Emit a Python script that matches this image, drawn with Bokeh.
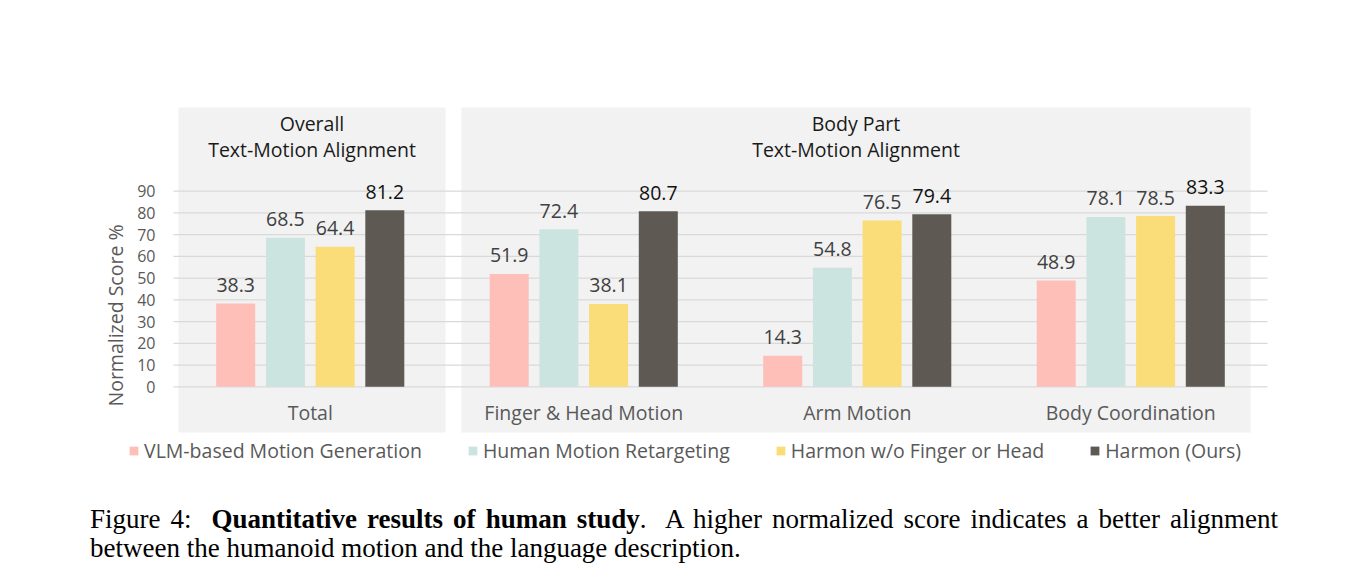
import numpy as np
from bokeh.plotting import figure
from bokeh.models import (ColumnDataSource, Range1d, FixedTicker, Legend, LegendItem, Div)
from bokeh.layouts import column
from bokeh.core.properties import value
from bokeh.embed import file_html
from bokeh.resources import INLINE

# ---------------- data ----------------
CATEGORIES = ["Total", "Finger & Head Motion", "Arm Motion", "Body Coordination"]
SERIES = ["VLM-based Motion Generation", "Human Motion Retargeting",
          "Harmon w/o Finger or Head", "Harmon (Ours)"]
VLM_GEN = [38.3, 51.9, 14.3, 48.9]
RETARGET = [68.5, 72.4, 54.8, 78.1]
NO_FINGER_HEAD = [64.4, 38.1, 76.5, 78.5]
HARMON = [81.2, 80.7, 79.4, 83.3]
Y_TICKS = [0, 10, 20, 30, 40, 50, 60, 70, 80, 90]
PANEL_TITLES = [["Overall", "Text-Motion Alignment"],
                ["Body Part", "Text-Motion Alignment"]]
Y_LABEL = "Normalized Score %"
CAPTION_LEAD = "Figure 4:"
CAPTION_BOLD = "Quantitative results of human study"
CAPTION_LINE1 = "A higher normalized score indicates a better alignment"
CAPTION_LINE2 = "between the humanoid motion and the language description."

# ---------------- style / layout ----------------
COLORS = ["#FFBFB9", "#CCE4E0", "#FADD78", "#5E5A53"]
VALUE_COLORS = ["#404040", "#404040", "#404040", "#111111"]
FONT = "Open Sans"
W = 1368
FIG_H = 499
FRAME_L, FRAME_R = 95, 1268          # canvas frame (px)
FRAME_T, FRAME_B = 100, 475
PLOT_L, PLOT_R = 173, 1267           # plotting area spanned by categories / grid
CAT_PX = (PLOT_R - PLOT_L) / len(CATEGORIES)
Y0_PX = 386.3
PPU = (386.3 - 190.6) / 90.0
BAR_STEP_PX = 49.7
BAR_W_PX = 39.0
TXT_SHIFT = 8                        # alphabetic-baseline correction


def x_of_px(px):
    return (px - PLOT_L) / CAT_PX


def y_of_px(py):
    return (Y0_PX - py) / PPU


p = figure(width=W, height=FIG_H, output_backend="svg", toolbar_location=None,
           x_range=Range1d(x_of_px(FRAME_L), x_of_px(FRAME_R)),
           y_range=Range1d(y_of_px(FRAME_B), y_of_px(FRAME_T)),
           x_axis_location=None, title=None,
           min_border_left=FRAME_L, min_border_right=W - FRAME_R,
           min_border_top=FRAME_T, min_border_bottom=FIG_H - FRAME_B)
p.outline_line_color = None
p.background_fill_color = "white"
p.border_fill_color = "white"
p.xgrid.visible = False
p.ygrid.visible = False

# background panels
p.quad(left=[x_of_px(178), x_of_px(461)], right=[x_of_px(445), x_of_px(1250)],
       bottom=y_of_px(432), top=y_of_px(107),
       fill_color="#F2F2F2", line_color=None, level="image")

# horizontal grid lines at the y ticks, spanning the category area
p.segment(x0=[x_of_px(PLOT_L)] * len(Y_TICKS), x1=[x_of_px(PLOT_R)] * len(Y_TICKS),
          y0=Y_TICKS, y1=Y_TICKS, line_color="#D9D9D9", line_width=1.3,
          level="underlay")

# y axis (drawn at the left edge of the category area)
ticker = FixedTicker(ticks=Y_TICKS)
p.yaxis.ticker = ticker
p.yaxis.fixed_location = x_of_px(PLOT_L)
p.yaxis.axis_line_color = None
p.yaxis.major_tick_line_color = None
p.yaxis.minor_tick_line_color = None
p.yaxis.major_tick_out = 0
p.yaxis.major_tick_in = 0
p.yaxis.major_label_standoff = 18
p.yaxis.major_label_text_font = FONT
p.yaxis.major_label_text_font_size = "16px"
p.yaxis.major_label_text_color = "#595959"

# bars
values = [VLM_GEN, RETARGET, NO_FINGER_HEAD, HARMON]
idx = np.arange(len(CATEGORIES)) + 0.5
step = BAR_STEP_PX / CAT_PX
bw = BAR_W_PX / CAT_PX
items = []
for j, (name, vals) in enumerate(zip(SERIES, values)):
    xs = idx + (j - 1.5) * step
    src = ColumnDataSource(dict(x=xs, top=vals,
                                label=[f"{v:.1f}" for v in vals]))
    r = p.vbar(x="x", top="top", bottom=0, width=bw, source=src,
               fill_color=COLORS[j], line_color=None)
    items.append(LegendItem(label=name, renderers=[r]))
    p.text(x="x", y="top", text="label", source=src, y_offset=-10.5 - TXT_SHIFT,
           text_align="center", text_baseline="alphabetic",
           text_font=value(FONT), text_font_size="19.5px",
           text_color=VALUE_COLORS[j])

# category labels
cat_src = ColumnDataSource(dict(x=idx, y=[y_of_px(420 - TXT_SHIFT)] * len(CATEGORIES),
                                t=CATEGORIES))
p.text(x="x", y="y", text="t", source=cat_src, text_align="center",
       text_baseline="alphabetic", text_font=value(FONT), text_font_size="19.5px",
       text_color="#595959")

# panel titles
centers_px = [(178 + 445) / 2, (461 + 1250) / 2]
tx, ty, tt = [], [], []
for cpx, lines in zip(centers_px, PANEL_TITLES):
    for k, line in enumerate(lines):
        tx.append(x_of_px(cpx))
        ty.append(y_of_px(131 + 26 * k - TXT_SHIFT))
        tt.append(line)
p.text(x=tx, y=ty, text=tt, text_align="center", text_baseline="alphabetic",
       text_font=value(FONT), text_font_size="19.5px", text_color="#1A1A1A")

# y axis title
p.text(x=[x_of_px(115)], y=[y_of_px(315)], text=[Y_LABEL], angle=np.pi / 2,
       text_align="center", text_baseline="middle", text_font=value(FONT),
       text_font_size="19.5px", text_color="#595959")

# legend
legend = Legend(items=items, orientation="horizontal", location=(128 - FRAME_L, 11),
                glyph_width=11, glyph_height=11, label_standoff=5, spacing=45,
                padding=0, margin=0, border_line_color=None, background_fill_alpha=0,
                label_text_font=FONT, label_text_font_size="19.5px",
                label_text_color="#595959")
p.add_layout(legend)

serif = ("font-family:'Liberation Serif','Times New Roman',serif;font-size:27px;"
         "line-height:29px;color:#000;")
cap_html = (f'<div style="{serif}text-align:justify;text-align-last:justify;width:1188px">'
            f'{CAPTION_LEAD}&nbsp; <b>{CAPTION_BOLD}</b>.&nbsp; {CAPTION_LINE1}</div>'
            f'<div style="{serif}text-align:left;width:1188px">{CAPTION_LINE2}</div>')
cap = Div(text=cap_html, width=1188, height=64, margin=(6, 0, 0, 90))

layout = column(p, cap)
open("out.html", "w").write(file_html(layout, INLINE))
